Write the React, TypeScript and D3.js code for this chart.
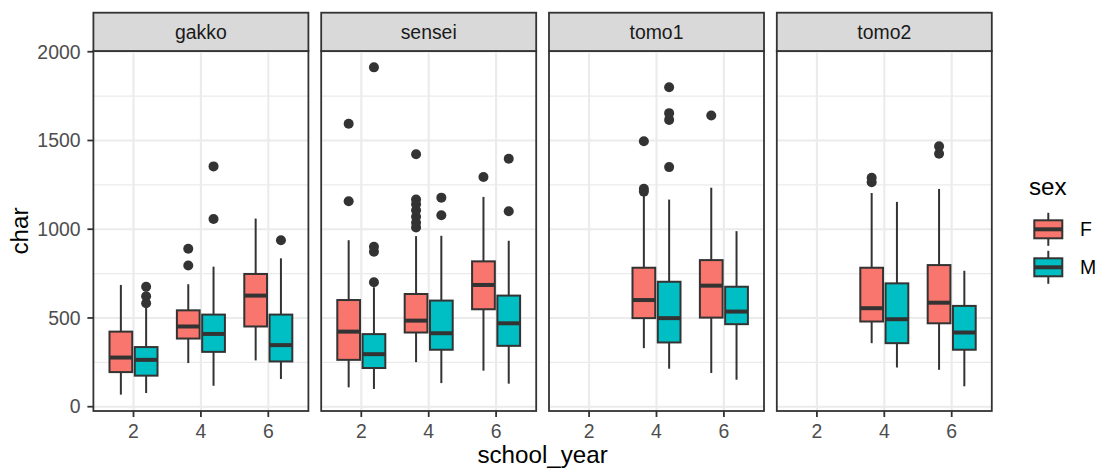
import React from "react";
import * as d3 from "d3";

// ---- data ----
const facets = ["gakko", "sensei", "tomo1", "tomo2"];
const sexes = ["F", "M"];
const sexColors = ["#F8766D", "#00BFC4"];
const xTicks = [2, 4, 6];
const yTicks = [0, 500, 1000, 1500, 2000];
const yMinor = [250, 750, 1250, 1750];

const groupFacet = [
  "gakko", "gakko", "gakko", "gakko", "gakko", "gakko",
  "sensei", "sensei", "sensei", "sensei", "sensei", "sensei",
  "tomo1", "tomo1", "tomo1", "tomo1",
  "tomo2", "tomo2", "tomo2", "tomo2",
];
const groupYear = [2, 2, 4, 4, 6, 6, 2, 2, 4, 4, 6, 6, 4, 4, 6, 6, 4, 4, 6, 6];
const groupSex = ["F", "M", "F", "M", "F", "M", "F", "M", "F", "M", "F", "M", "F", "M", "F", "M", "F", "M", "F", "M"];
const whiskerLow = [68, 77, 246, 118, 261, 156, 109, 100, 251, 133, 203, 130, 330, 214, 190, 152, 358, 221, 208, 115];
const q1 = [195, 175, 384, 309, 452, 255, 264, 218, 418, 321, 549, 343, 499, 362, 502, 465, 480, 358, 470, 321];
const median = [277, 264, 452, 410, 626, 347, 423, 296, 485, 414, 686, 470, 601, 499, 682, 536, 555, 493, 586, 418];
const q3 = [423, 336, 543, 519, 748, 519, 601, 409, 635, 598, 819, 626, 783, 704, 826, 676, 783, 695, 798, 568];
const whiskerHigh = [686, 562, 690, 789, 1060, 836, 938, 673, 961, 963, 1182, 935, 1195, 1167, 1234, 989, 1204, 1154, 1227, 766];
const outliers = [
  [], [583, 622, 676], [796, 890], [1058, 1354], [], [938],
  [1158, 1594], [701, 873, 901, 1912], [1010, 1036, 1070, 1107, 1141, 1167, 1422], [1079, 1178], [1294], [1101, 1397],
  [1212, 1228, 1496], [1350, 1616, 1654, 1800], [1641], [],
  [1265, 1290], [], [1425, 1467], [],
];

// ---- layout ----
const W = 1097, H = 469;
const panelLeft0 = 93.4, panelW = 215, panelStep = 227.8;
const panelTop = 51, panelBottom = 411;
const stripTop = 12.7;
const font = "'Liberation Sans', Arial, sans-serif";
const dark = "#333333";

export default function App() {
  const allVals = [...whiskerLow, ...whiskerHigh, ...outliers.flat()];
  const lo = d3.min(allVals) as number, hi = d3.max(allVals) as number;
  const pad = (hi - lo) * 0.05;
  const y = d3.scaleLinear().domain([lo - pad, hi + pad]).range([panelBottom, panelTop]);
  const xDom = [2 - 0.9, 6 + 0.9];
  const xPad = (xDom[1] - xDom[0]) * 0.05;
  const dodge = 0.375, boxW = 0.675;

  return (
    <svg width={W} height={H} style={{ position: "absolute", left: 0, top: 0, background: "#fff" }} fontFamily={font}>
      <rect x={0} y={0} width={W} height={H} fill="#fff" />
      {facets.map((f, fi) => {
        const left = panelLeft0 + fi * panelStep;
        const x = d3.scaleLinear().domain([xDom[0] - xPad, xDom[1] + xPad]).range([left, left + panelW]);
        const idx = groupFacet.map((g, i) => (g === f ? i : -1)).filter((i) => i >= 0);
        return (
          <g key={f}>
            {/* grid */}
            {yMinor.map((t) => (
              <line key={"mi" + t} x1={left} x2={left + panelW} y1={y(t)} y2={y(t)} stroke="#EBEBEB" strokeWidth={1.1} />
            ))}
            {yTicks.map((t) => (
              <line key={"ma" + t} x1={left} x2={left + panelW} y1={y(t)} y2={y(t)} stroke="#EBEBEB" strokeWidth={2.1} />
            ))}
            {xTicks.map((t) => (
              <line key={"mx" + t} x1={x(t)} x2={x(t)} y1={panelTop} y2={panelBottom} stroke="#EBEBEB" strokeWidth={2.1} />
            ))}
            {/* boxes */}
            {idx.map((i) => {
              const s = sexes.indexOf(groupSex[i]);
              const cx = groupYear[i] + (s === 0 ? -dodge : dodge);
              const x0 = x(cx - boxW / 2), x1 = x(cx + boxW / 2), xc = x(cx);
              return (
                <g key={i}>
                  <line x1={xc} x2={xc} y1={y(whiskerHigh[i])} y2={y(q3[i])} stroke={dark} strokeWidth={2} />
                  <line x1={xc} x2={xc} y1={y(q1[i])} y2={y(whiskerLow[i])} stroke={dark} strokeWidth={2} />
                  <rect x={x0} y={y(q3[i])} width={x1 - x0} height={y(q1[i]) - y(q3[i])} fill={sexColors[s]} stroke={dark} strokeWidth={2} />
                  <line x1={x0} x2={x1} y1={y(median[i])} y2={y(median[i])} stroke={dark} strokeWidth={4} />
                  {outliers[i].map((o, k) => (
                    <circle key={k} cx={xc} cy={y(o)} r={5} fill={dark} />
                  ))}
                </g>
              );
            })}
            {/* panel border */}
            <rect x={left} y={panelTop} width={panelW} height={panelBottom - panelTop} fill="none" stroke={dark} strokeWidth={1.8} />
            {/* strip */}
            <rect x={left} y={stripTop} width={panelW} height={panelTop - stripTop} fill="#D9D9D9" stroke={dark} strokeWidth={1.8} />
            <text x={left + panelW / 2} y={39} textAnchor="middle" fontSize={19.4} fill="#1A1A1A">{f}</text>
            {/* x axis */}
            {xTicks.map((t) => (
              <g key={"xt" + t}>
                <line x1={x(t)} x2={x(t)} y1={panelBottom} y2={panelBottom + 6} stroke={dark} strokeWidth={1.8} />
                <text x={x(t)} y={437.5} textAnchor="middle" fontSize={19.4} fill="#4D4D4D">{t}</text>
              </g>
            ))}
          </g>
        );
      })}
      {/* y axis */}
      {yTicks.map((t) => (
        <g key={"yt" + t}>
          <line x1={panelLeft0 - 6} x2={panelLeft0} y1={y(t)} y2={y(t)} stroke={dark} strokeWidth={1.8} />
          <text x={80.5} y={y(t)} dy="0.35em" textAnchor="end" fontSize={19.4} fill="#4D4D4D">{t}</text>
        </g>
      ))}
      {/* axis titles */}
      <text x={panelLeft0 + (3 * panelStep + panelW) / 2} y={463} textAnchor="middle" fontSize={24.2} fill="#000">school_year</text>
      <text transform={`translate(28,${(panelTop + panelBottom) / 2}) rotate(-90)`} textAnchor="middle" fontSize={24.2} fill="#000">char</text>
      {/* legend */}
      <text x={1029} y={195} fontSize={24.2} fill="#000">sex</text>
      {sexes.map((s, i) => {
        const cy = 229.3 + i * 38;
        const kx0 = 1034.3, kx1 = 1062.3, kc = (kx0 + kx1) / 2;
        return (
          <g key={s}>
            <line x1={kc} x2={kc} y1={cy - 16.5} y2={cy + 16.5} stroke={dark} strokeWidth={2} />
            <rect x={kx0} y={cy - 9} width={kx1 - kx0} height={18} fill={sexColors[i]} stroke={dark} strokeWidth={2} />
            <line x1={kx0} x2={kx1} y1={cy} y2={cy} stroke={dark} strokeWidth={4} />
            <text x={1080} y={cy} dy="0.35em" fontSize={19.4} fill="#000">{s}</text>
          </g>
        );
      })}
    </svg>
  );
}
